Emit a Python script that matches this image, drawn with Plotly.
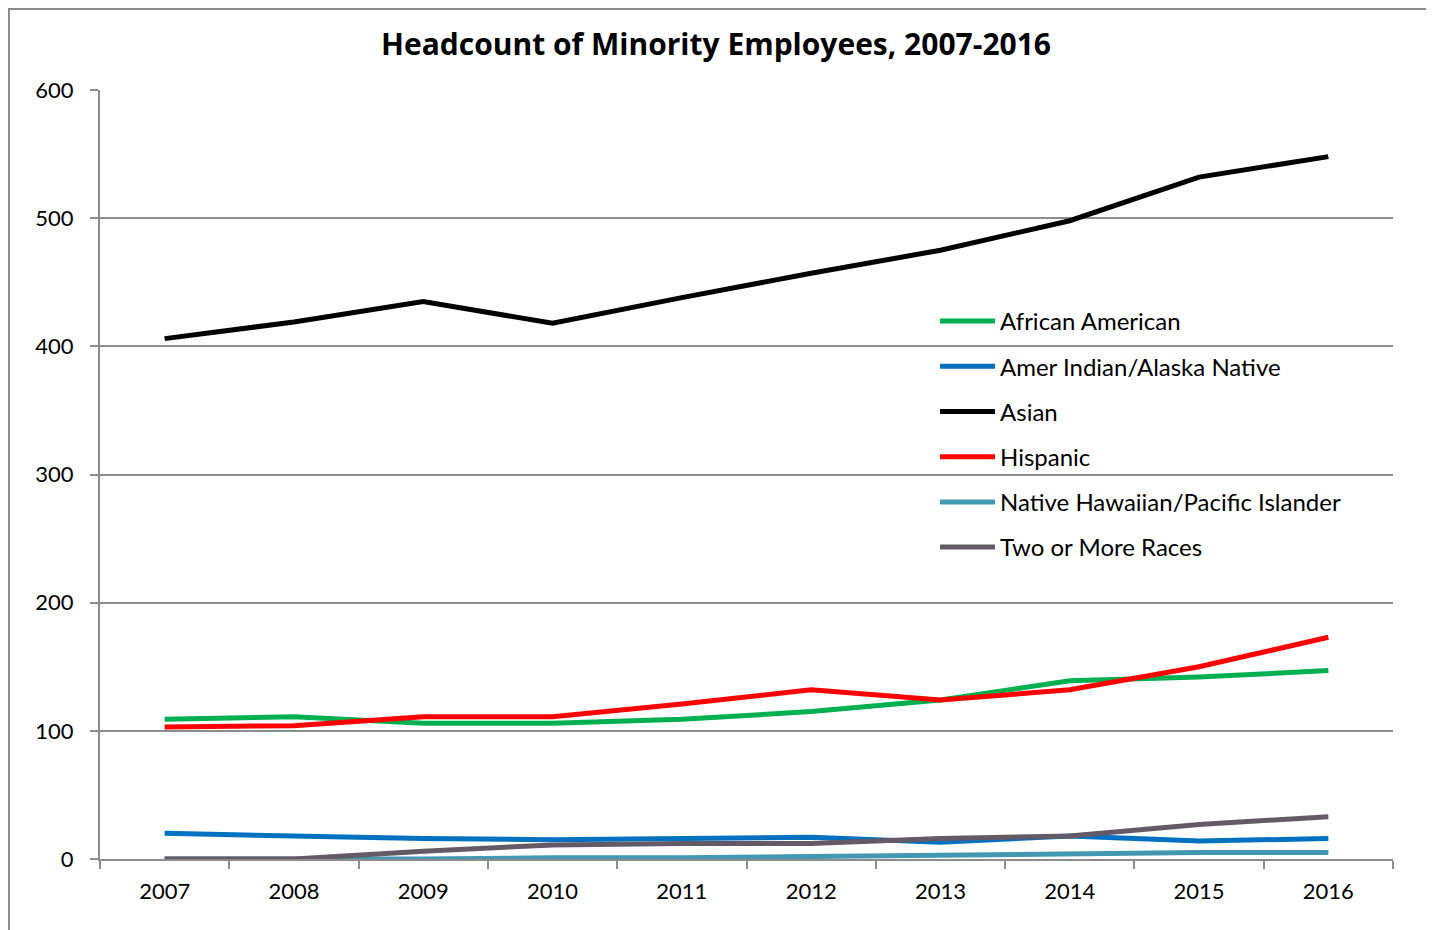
import plotly.graph_objects as go

years = ["2007", "2008", "2009", "2010", "2011", "2012", "2013", "2014", "2015", "2016"]

african_american = [109, 111, 106, 106, 109, 115, 124, 139, 142, 147]
amer_indian = [20, 18, 16, 15, 16, 17, 13, 18, 14, 16]
asian = [406, 419, 435, 418, 438, 457, 475, 498, 532, 548]
hispanic = [103, 104, 111, 111, 121, 132, 124, 132, 150, 173]
native_hawaiian = [0, 0, 0, 1, 1, 2, 3, 4, 5, 5]
two_or_more = [0, 0, 6, 11, 12, 12, 16, 18, 27, 33]

series = [
    ("African American", african_american, "#00B050"),
    ("Amer Indian/Alaska Native", amer_indian, "#0070C0"),
    ("Asian", asian, "#000000"),
    ("Hispanic", hispanic, "#FF0000"),
    ("Native Hawaiian/Pacific Islander", native_hawaiian, "#4298B0"),
    ("Two or More Races", two_or_more, "#635A66"),
]

FONT = "Lato"
# page body has an 8px margin; plot area in figure coords: x 92..1385, y 82..851
L, T, PW, PH = 92, 82, 1293, 769
BOTTOM = T + PH

fig = go.Figure()
for i, (name, vals, color) in enumerate(series):
    fig.add_trace(go.Scatter(
        x=years, y=vals, name=name, mode="lines",
        line=dict(color=color, width=5),
        legendgroup=f"g{i}",
    ))

fig.update_layout(
    width=1434, height=930,
    margin=dict(l=L, r=1434 - L - PW, t=T, b=930 - BOTTOM),
    paper_bgcolor="white", plot_bgcolor="white",
    font=dict(family=FONT, size=22, color="black"),
    title=dict(
        text="<b>Headcount of Minority Employees, 2007-2016</b>",
        x=(716 - 8) / 1434, xanchor="center", y=1 - 36 / 930, yanchor="middle",
        font=dict(family="Open Sans", size=30, color="black"),
    ),
    showlegend=True,
    legend=dict(
        x=(927 - L) / PW, y=(BOTTOM - 291) / PH, xanchor="left", yanchor="top",
        bgcolor="rgba(0,0,0,0)", borderwidth=0,
        font=dict(family=FONT, size=24, color="black"),
        tracegroupgap=11, itemwidth=55,
    ),
    xaxis=dict(
        type="category", range=[-0.5, 9.5],
        showgrid=False, showline=True, linecolor="#8C8C8C", linewidth=2,
        ticks="outside", tickson="boundaries", ticklen=8, tickcolor="#8C8C8C", tickwidth=2,
        tickfont=dict(family=FONT, size=22, color="black"),
        ticklabelstandoff=12,
        zeroline=False,
    ),
    yaxis=dict(
        range=[0, 600], dtick=100,
        showgrid=True, gridcolor="#8C8C8C", gridwidth=2,
        showline=True, linecolor="#8C8C8C", linewidth=2,
        ticks="outside", ticklen=8, tickcolor="#8C8C8C", tickwidth=2,
        tickfont=dict(family=FONT, size=22, color="black"),
        ticklabelstandoff=12,
        zeroline=False,
    ),
)

fig.add_shape(
    type="rect", xref="paper", yref="paper",
    x0=(1 - L) / PW, x1=(1419 - L) / PW,
    y0=(BOTTOM - 940) / PH, y1=(BOTTOM - 1) / PH,
    line=dict(color="#8C8C8C", width=2), fillcolor="rgba(0,0,0,0)", layer="below",
)

fig.write_html("out.html")
